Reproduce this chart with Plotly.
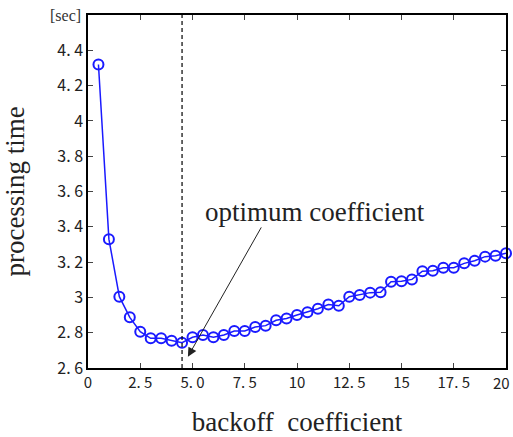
import plotly.graph_objects as go

backoff = [0.5, 1.0, 1.5, 2.0, 2.5, 3.0, 3.5, 4.0, 4.5, 5.0,
           5.5, 6.0, 6.5, 7.0, 7.5, 8.0, 8.5, 9.0, 9.5, 10.0,
           10.5, 11.0, 11.5, 12.0, 12.5, 13.0, 13.5, 14.0, 14.5, 15.0,
           15.5, 16.0, 16.5, 17.0, 17.5, 18.0, 18.5, 19.0, 19.5, 20.0]
proc_time = [4.32, 3.33, 3.004, 2.887, 2.806, 2.768, 2.768, 2.755, 2.743, 2.774,
             2.787, 2.774, 2.787, 2.81, 2.81, 2.832, 2.84, 2.87, 2.88, 2.9,
             2.916, 2.936, 2.96, 2.953, 3.004, 3.014, 3.027, 3.029, 3.089, 3.091,
             3.102, 3.148, 3.151, 3.168, 3.168, 3.193, 3.208, 3.231, 3.236, 3.25]
optimum_x = 4.5

x_tickvals = [0, 2.5, 5.0, 7.5, 10, 12.5, 15, 17.5, 20]
x_ticktext = ["0", "2. 5", "5. 0", "7. 5", "10", "12. 5", "15", "17. 5", "20"]
y_tickvals = [2.6, 2.8, 3.0, 3.2, 3.4, 3.6, 3.8, 4.0, 4.2, 4.4]
y_ticktext = ["2. 6", "2. 8", "3", "3. 2", "3. 4", "3. 6", "3. 8", "4", "4. 2", "4. 4"]

serif = "Liberation Serif"
tickfont = "Noto Sans CJK JP"

fig = go.Figure()
fig.add_trace(go.Scatter(
    x=backoff, y=proc_time, mode="lines+markers",
    line=dict(color="#1a1aff", width=1.5),
    marker=dict(symbol="circle-open", size=10, color="#1a1aff", line=dict(width=2)),
    showlegend=False, cliponaxis=False,
))

fig.add_shape(type="line", x0=optimum_x, x1=optimum_x, y0=0, y1=1, yref="paper", xref="x",
              line=dict(color="black", width=1.2, dash="4px,3px"))

# arrow
fig.add_annotation(x=4.78, y=2.664, ax=8.33, ay=3.405, axref="x", ayref="y", xref="x", yref="y",
                   text="", showarrow=True, arrowhead=2, arrowsize=1.8, arrowwidth=1,
                   arrowcolor="#222222")
fig.add_annotation(x=5.52, y=3.484, xref="x", yref="y", text="optimum coefficient",
                   showarrow=False, xanchor="left", yanchor="middle",
                   font=dict(family=serif, size=27, color="#222222"))
fig.add_annotation(x=0, y=1, xref="paper", yref="paper", text="[sec]", showarrow=False,
                   xanchor="right", yanchor="middle", xshift=-5,
                   font=dict(family=serif, size=16, color="#333333"))

# last x tick label drawn as annotation so it stays inside the page
shown_ticktext = x_ticktext[:-1] + [""]
fig.add_annotation(x=1, y=0, xref="paper", yref="paper", text=x_ticktext[-1],
                   showarrow=False, xanchor="right", yanchor="top", yshift=-2, xshift=6,
                   font=dict(family=tickfont, size=15, color="#222"))

fig.update_xaxes(range=[0, 20], tickvals=x_tickvals, ticktext=shown_ticktext, automargin=False,
                 showline=True, linecolor="black", linewidth=1.5, mirror="ticks",
                 ticks="inside", ticklen=5, tickcolor="#444", showgrid=False, zeroline=False,
                 tickfont=dict(family=tickfont, size=15, color="#222"),
                 title=dict(text="backoff  coefficient", font=dict(family=serif, size=27, color="#222"),
                            standoff=24))
fig.update_yaxes(range=[2.6, 4.6], tickvals=y_tickvals, ticktext=y_ticktext, automargin=False,
                 showline=True, linecolor="black", linewidth=1.5, mirror="ticks",
                 ticks="inside", ticklen=5, tickcolor="#444", showgrid=False, zeroline=False,
                 tickfont=dict(family=tickfont, size=16, color="#222"),
                 title=dict(text="processing time", font=dict(family=serif, size=27, color="#222"),
                            standoff=28))

fig.update_layout(width=513, height=437, margin=dict(l=88, r=7, t=15, b=69),
                  plot_bgcolor="white", paper_bgcolor="white")
fig.write_html("out.html")
